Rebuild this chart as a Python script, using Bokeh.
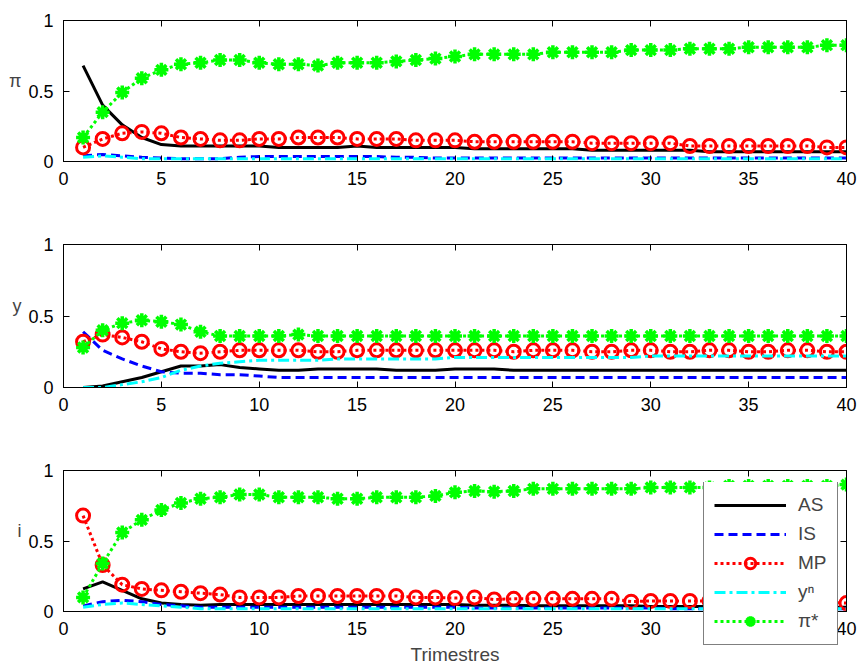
from bokeh.plotting import figure
from bokeh.layouts import column
from bokeh.models import Range1d, FixedTicker, LinearAxis, Legend, LegendItem
from bokeh.embed import file_html
from bokeh.resources import INLINE

# ---------------- data ----------------
periods = list(range(1, 41))
x_ticks = [0, 5, 10, 15, 20, 25, 30, 35, 40]
y_ticks = [0, 0.5, 1]
y_tick_labels = ["0", "0.5", "1"]
panel_labels = ["π", "y", "i"]
x_label = "Trimestres"
series_names = ["AS", "IS", "MP", "yⁿ", "π*"]

# Panel 1: inflation (pi)
pi_AS = [0.68, 0.40, 0.26, 0.17, 0.12, 0.11, 0.11, 0.11, 0.11, 0.11,
         0.10, 0.10, 0.10, 0.10, 0.11, 0.10, 0.10, 0.10, 0.10, 0.10,
         0.09, 0.09, 0.09, 0.09, 0.09, 0.09, 0.08, 0.08, 0.08, 0.08,
         0.08, 0.08, 0.07, 0.07, 0.07, 0.07, 0.07, 0.07, 0.07, 0.07]
pi_IS = [0.04, 0.05, 0.04, 0.03, 0.025, 0.02, 0.02, 0.02, 0.03, 0.035,
         0.035, 0.035, 0.035, 0.035, 0.035, 0.035, 0.03, 0.03, 0.025, 0.025,
         0.025, 0.025, 0.025, 0.025, 0.025, 0.025, 0.025, 0.025, 0.025, 0.025,
         0.025, 0.025, 0.025, 0.025, 0.025, 0.025, 0.025, 0.025, 0.025, 0.025]
pi_YN = [0.03, 0.04, 0.03, 0.02, 0.02, 0.02, 0.02, 0.02, 0.02, 0.02,
         0.02, 0.02, 0.02, 0.02, 0.02, 0.02, 0.02, 0.02, 0.02, 0.02,
         0.02, 0.02, 0.02, 0.02, 0.02, 0.02, 0.02, 0.02, 0.02, 0.02,
         0.02, 0.02, 0.02, 0.02, 0.02, 0.02, 0.02, 0.02, 0.02, 0.02]
pi_MP = [0.10, 0.16, 0.20, 0.21, 0.20, 0.17, 0.16, 0.15, 0.15, 0.16,
         0.16, 0.17, 0.17, 0.17, 0.16, 0.16, 0.16, 0.15, 0.15, 0.15,
         0.14, 0.14, 0.14, 0.14, 0.14, 0.14, 0.13, 0.13, 0.13, 0.13,
         0.13, 0.11, 0.11, 0.11, 0.11, 0.11, 0.11, 0.11, 0.10, 0.10]
pi_PS = [0.17, 0.35, 0.49, 0.59, 0.65, 0.69, 0.70, 0.72, 0.72, 0.70,
         0.69, 0.69, 0.68, 0.70, 0.70, 0.70, 0.71, 0.72, 0.73, 0.745,
         0.76, 0.76, 0.76, 0.76, 0.775, 0.775, 0.775, 0.775, 0.79, 0.79,
         0.79, 0.80, 0.80, 0.80, 0.81, 0.81, 0.81, 0.81, 0.825, 0.825]

# Panel 2: output (y)
y_AS = [0.00, 0.01, 0.04, 0.07, 0.11, 0.15, 0.15, 0.16, 0.14, 0.13,
        0.12, 0.12, 0.13, 0.13, 0.13, 0.13, 0.12, 0.12, 0.12, 0.13,
        0.13, 0.13, 0.12, 0.12, 0.12, 0.12, 0.12, 0.12, 0.12, 0.12,
        0.12, 0.12, 0.12, 0.12, 0.12, 0.12, 0.12, 0.12, 0.12, 0.12]
y_IS = [0.39, 0.26, 0.20, 0.15, 0.11, 0.10, 0.10, 0.09, 0.09, 0.08,
        0.07, 0.07, 0.07, 0.07, 0.07, 0.07, 0.07, 0.07, 0.07, 0.07,
        0.07, 0.07, 0.07, 0.07, 0.07, 0.07, 0.07, 0.07, 0.07, 0.07,
        0.07, 0.07, 0.07, 0.07, 0.07, 0.07, 0.07, 0.07, 0.07, 0.07]
y_YN = [0.00, 0.00, 0.02, 0.04, 0.07, 0.12, 0.15, 0.17, 0.18, 0.19,
        0.19, 0.19, 0.19, 0.20, 0.20, 0.20, 0.20, 0.20, 0.20, 0.21,
        0.21, 0.21, 0.21, 0.21, 0.21, 0.21, 0.21, 0.21, 0.21, 0.22,
        0.22, 0.22, 0.22, 0.22, 0.22, 0.22, 0.22, 0.22, 0.22, 0.22]
y_MP = [0.32, 0.37, 0.35, 0.32, 0.27, 0.25, 0.24, 0.25, 0.26, 0.26,
        0.26, 0.26, 0.25, 0.25, 0.26, 0.26, 0.26, 0.26, 0.26, 0.26,
        0.26, 0.26, 0.25, 0.26, 0.26, 0.26, 0.25, 0.25, 0.26, 0.26,
        0.25, 0.25, 0.26, 0.26, 0.25, 0.25, 0.26, 0.26, 0.25, 0.25]
y_PS = [0.28, 0.40, 0.45, 0.47, 0.46, 0.44, 0.39, 0.36, 0.36, 0.36,
        0.36, 0.37, 0.36, 0.36, 0.36, 0.36, 0.36, 0.36, 0.36, 0.36,
        0.36, 0.36, 0.36, 0.36, 0.36, 0.36, 0.36, 0.36, 0.36, 0.36,
        0.36, 0.36, 0.36, 0.36, 0.36, 0.36, 0.36, 0.36, 0.36, 0.36]

# Panel 3: interest rate (i)
i_AS = [0.16, 0.21, 0.15, 0.09, 0.06, 0.05, 0.045, 0.05, 0.05, 0.05,
        0.05, 0.05, 0.05, 0.05, 0.05, 0.05, 0.05, 0.05, 0.05, 0.05,
        0.045, 0.045, 0.045, 0.04, 0.04, 0.04, 0.04, 0.04, 0.04, 0.035,
        0.035, 0.035, 0.035, 0.035, 0.035, 0.035, 0.03, 0.03, 0.03, 0.03]
i_IS = [0.04, 0.07, 0.08, 0.07, 0.05, 0.04, 0.03, 0.03, 0.03, 0.03,
        0.03, 0.03, 0.03, 0.03, 0.03, 0.03, 0.03, 0.03, 0.03, 0.03,
        0.025, 0.025, 0.025, 0.025, 0.025, 0.025, 0.025, 0.025, 0.025, 0.025,
        0.02, 0.02, 0.02, 0.02, 0.02, 0.02, 0.02, 0.02, 0.02, 0.02]
i_YN = [0.03, 0.05, 0.06, 0.05, 0.04, 0.03, 0.02, 0.02, 0.02, 0.02,
        0.02, 0.02, 0.02, 0.02, 0.02, 0.02, 0.02, 0.02, 0.02, 0.02,
        0.02, 0.02, 0.02, 0.02, 0.02, 0.02, 0.02, 0.02, 0.02, 0.02,
        0.02, 0.02, 0.02, 0.02, 0.02, 0.02, 0.02, 0.02, 0.02, 0.02]
i_MP = [0.68, 0.33, 0.19, 0.16, 0.15, 0.14, 0.13, 0.12, 0.10, 0.10,
        0.10, 0.11, 0.11, 0.11, 0.11, 0.11, 0.11, 0.10, 0.10, 0.095,
        0.10, 0.085, 0.09, 0.09, 0.09, 0.09, 0.09, 0.09, 0.07, 0.075,
        0.075, 0.075, 0.075, 0.07, 0.07, 0.07, 0.07, 0.07, 0.065, 0.06]
i_PS = [0.10, 0.34, 0.56, 0.65, 0.72, 0.77, 0.80, 0.81, 0.83, 0.83,
        0.81, 0.81, 0.81, 0.80, 0.80, 0.81, 0.81, 0.81, 0.82, 0.845,
        0.855, 0.85, 0.855, 0.87, 0.87, 0.87, 0.87, 0.87, 0.87, 0.88,
        0.88, 0.88, 0.88, 0.89, 0.89, 0.89, 0.89, 0.89, 0.89, 0.90]

panels = [
    [pi_AS, pi_IS, pi_MP, pi_YN, pi_PS],
    [y_AS, y_IS, y_MP, y_YN, y_PS],
    [i_AS, i_IS, i_MP, i_YN, i_PS],
]

# ---------------- styling ----------------
FONT = "Liberation Sans"
TICK_FS = "18px"
LW = 3
BORDER_LEFT = 63

borders = [
    dict(min_border_top=20, min_border_bottom=63, frame_height=141),
    dict(min_border_top=20, min_border_bottom=63, frame_height=143),
    dict(min_border_top=20, min_border_bottom=58, frame_height=141),
]


def style_axis(ax, show_labels=True):
    ax.axis_line_color = "black"
    ax.axis_line_width = 1
    ax.major_tick_in = 6
    ax.major_tick_out = 0
    ax.minor_tick_line_color = None
    ax.major_tick_line_color = "black"
    ax.major_label_text_font = FONT
    if show_labels:
        ax.major_label_text_font_size = TICK_FS
        ax.major_label_text_color = "black"
    else:
        ax.major_label_text_font_size = "1px"
        ax.major_label_text_color = None
        ax.major_label_standoff = 0


def draw_series(p, data):
    AS, IS, MP, YN, PS = data
    r_as = p.line(periods, AS, line_color="black", line_width=LW)
    r_is = p.line(periods, IS, line_color="#0000ff", line_width=LW, line_dash="9 5")
    r_mp = p.line(periods, MP, line_color="#ff0000", line_width=LW, line_dash="3 3")
    r_mpm = p.scatter(periods, MP, marker="circle", size=13, line_color="#ff0000",
                      line_width=3, fill_color=None)
    r_yn = p.line(periods, YN, line_color="#00ffff", line_width=LW, line_dash="11 4 3 4")
    r_ps = p.line(periods, PS, line_color="#00ff00", line_width=LW, line_dash="3 3")
    r_psm = p.scatter(periods, PS, marker="asterisk", size=14, line_color="#00ff00",
                      line_width=3.5)
    return [[r_as], [r_is], [r_mp, r_mpm], [r_yn], [r_ps, r_psm]]


figs = []
for k, data in enumerate(panels):
    p = figure(frame_width=783, min_border_left=BORDER_LEFT, min_border_right=12,
               x_range=Range1d(0, 40), y_range=Range1d(0, 1),
               output_backend="svg", toolbar_location=None, **borders[k])
    p.grid.visible = False
    p.outline_line_color = "black"
    p.outline_line_width = 1
    p.background_fill_color = "white"
    p.border_fill_color = "white"

    xb = p.below[0]
    xb.ticker = FixedTicker(ticks=x_ticks)
    style_axis(xb)
    xb.major_label_standoff = 10

    yl = p.left[0]
    yl.ticker = FixedTicker(ticks=y_ticks)
    yl.major_label_overrides = {float(t): s for t, s in zip(y_ticks, y_tick_labels)}
    style_axis(yl)
    yl.major_label_standoff = 10
    yl.axis_label = panel_labels[k] + "\n "
    yl.axis_label_orientation = "horizontal"
    yl.axis_label_text_font = FONT
    yl.axis_label_text_font_size = "18px"
    yl.axis_label_text_font_style = "normal"
    yl.axis_label_text_line_height = 1.0
    yl.axis_label_standoff = 4

    top = LinearAxis(ticker=FixedTicker(ticks=x_ticks))
    style_axis(top, show_labels=False)
    p.add_layout(top, "above")
    right = LinearAxis(ticker=FixedTicker(ticks=y_ticks))
    style_axis(right, show_labels=False)
    p.add_layout(right, "right")

    draw_series(p, data)

    if k == 2:
        xb.axis_label = x_label
        xb.axis_label_text_font = FONT
        xb.axis_label_text_font_size = "19px"
        xb.axis_label_text_font_style = "normal"
        xb.axis_label_standoff = 6
    figs.append(p)

# ---- legend: a transparent overlay figure aligned with the bottom panel ----
leg_fig = figure(frame_width=783, frame_height=164, min_border_left=BORDER_LEFT, min_border_right=12,
                 min_border_top=0, min_border_bottom=0,
                 x_range=Range1d(0, 40), y_range=Range1d(5, 6),
                 x_axis_type=None, y_axis_type=None,
                 output_backend="svg", toolbar_location=None)
leg_fig.grid.visible = False
leg_fig.outline_line_color = None
leg_fig.background_fill_color = None
leg_fig.border_fill_color = None
leg_renderers = draw_series(leg_fig, panels[2])
legend = Legend(items=[LegendItem(label=n, renderers=r) for n, r in zip(series_names, leg_renderers)],
                location=(640, 1), margin=0, padding=10,
                spacing=3, glyph_height=26, glyph_width=72, label_standoff=12,
                label_text_font=FONT, label_text_font_size="19px",
                border_line_color="black", border_line_width=1,
                background_fill_color="white", background_fill_alpha=1.0)
leg_fig.add_layout(legend)
leg_fig.styles = {"position": "absolute", "left": "0px", "top": "482px", "z-index": "10"}

layout = column(*figs, leg_fig, spacing=0)
open("out.html", "w").write(file_html(layout, INLINE))
